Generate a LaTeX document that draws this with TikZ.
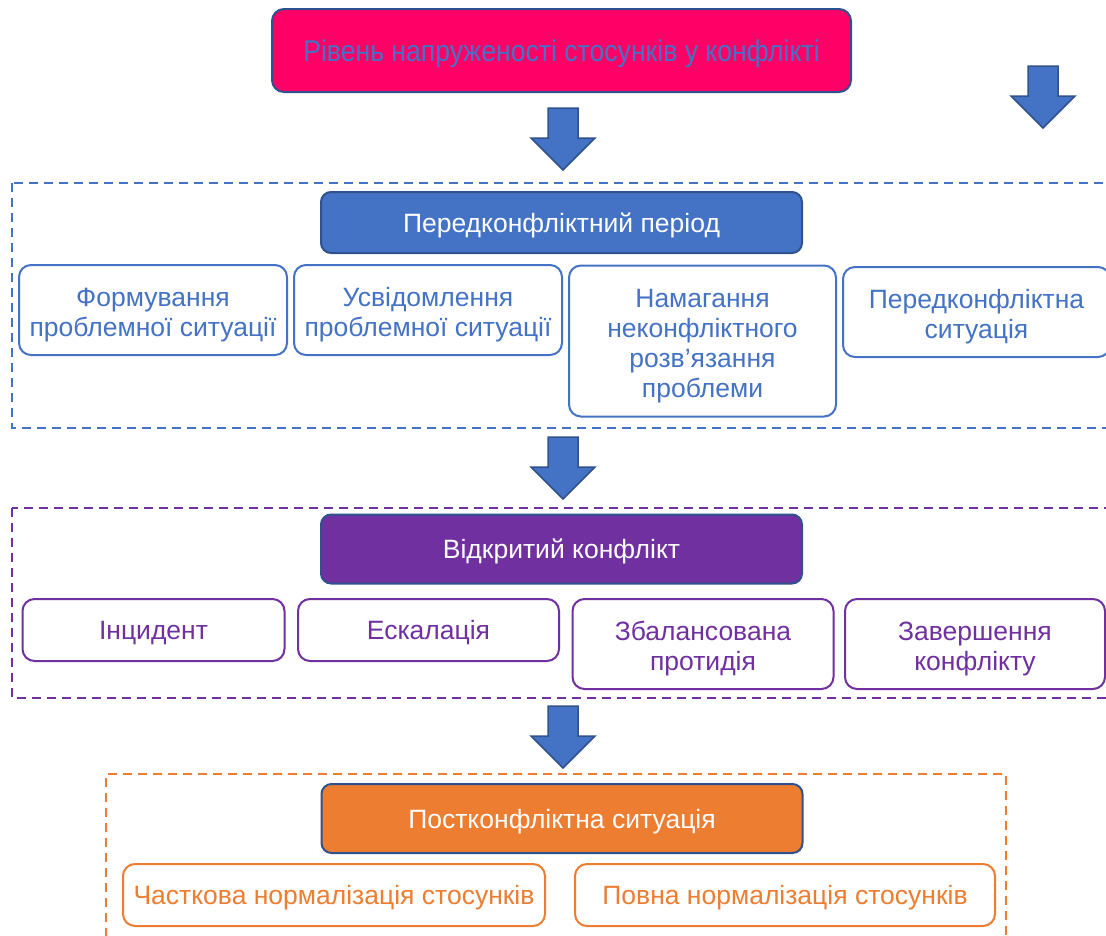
\documentclass[tikz,border=0pt]{standalone}
\usepackage{fontspec}
\setmainfont{Liberation Sans}
\usetikzlibrary{positioning}
\definecolor{azul}{HTML}{4472C4}
\definecolor{azulosc}{HTML}{2F528F}
\definecolor{morado}{HTML}{7030A0}
\definecolor{naranja}{HTML}{ED7D31}
\definecolor{rosa}{HTML}{FF0066}
\newcommand{\lineas}[1]{\raisebox{-5pt}[\height][\depth]{\begin{tabular}{@{}c@{}}#1\end{tabular}}}
\tikzset{
  every node/.style={execute at begin node={\rule{0pt}{0.93em}}, execute at end node={\rule[-0.21em]{0pt}{0pt}}},
  cabeza/.style={draw=azulosc, line width=2pt, rounded corners=10pt, fill=#1, text=white, inner sep=0pt, minimum width=481pt, font=\fontsize{26.5}{30}\selectfont},
  caja/.style={draw=#1, line width=2pt, rounded corners=12pt, fill=white, text=#1, inner sep=0pt, font=\fontsize{26.5}{30}\selectfont},
  marco/.style={draw=#1, line width=2pt, dash pattern=on 9pt off 6pt},
  flecha/.style={fill=azul, draw=azulosc, line width=1.5pt},
  bajar/.pic={\draw[flecha] (-15,0) -- (15,0) -- (15,30) -- (32,30) -- (0,62) -- (-32,30) -- (-15,30) -- cycle;}
}

\begin{document}
\begin{tikzpicture}[x=1pt, y=-1pt]
\useasboundingbox (0,0) rectangle (1106,935);
% marcos punteados
\draw[marco=azul] (12,183) rectangle (1130,428);
\draw[marco=morado] (12,508) rectangle (1130,698);
\draw[marco=naranja] (1006,950) -- (1006,774) -- (106,774) -- (106,950);
% nivel
\node[draw=azulosc, line width=2pt, rounded corners=12pt, fill=rosa, text=azul, minimum width=579pt, minimum height=83pt, inner sep=0pt, font=\fontsize{30}{34}\selectfont] (nivel) at (561.5,50.5) {\scalebox{0.887}[1]{Рівень напруженості стосунків у конфлікті}};
\pic at (563,108) {bajar};
\pic at (1043,66) {bajar};
% передконфліктний період
\node[cabeza=azul, minimum height=61pt] (pre) at (561.5,222.5) {Передконфліктний період};
\node[caja=azul, minimum width=268pt, minimum height=90pt] (pre1) at (153,310) {\lineas{Формування\\проблемної ситуації}};
\node[caja=azul, minimum width=268pt, minimum height=90pt] (pre2) at (428,310) {\lineas{Усвідомлення\\проблемної ситуації}};
\node[caja=azul, minimum width=267pt, minimum height=151pt] (pre3) at (702.5,341) {\lineas{Намагання\\неконфліктного\\розв’язання\\проблеми}};
\node[caja=azul, minimum width=267pt, minimum height=90pt] (pre4) at (976.5,312) {\lineas{Передконфліктна\\ситуація}};
\pic at (563,437) {bajar};
% відкритий конфлікт
\node[cabeza=morado, minimum height=69pt] (conf) at (561.5,549) {Відкритий конфлікт};
\node[caja=morado, minimum width=262pt, minimum height=62pt] (conf1) at (153.5,630) {Інцидент};
\node[caja=morado, minimum width=261pt, minimum height=62pt] (conf2) at (428.5,630) {Ескалація};
\node[caja=morado, minimum width=261pt, minimum height=90pt] (conf3) at (703,644) {\lineas{Збалансована\\протидія}};
\node[caja=morado, minimum width=260pt, minimum height=90pt] (conf4) at (975,644) {\lineas{Завершення\\конфлікту}};
\pic at (563,706) {bajar};
% постконфліктна ситуація
\node[cabeza=naranja, minimum height=69pt] (post) at (562,818.5) {Постконфліктна ситуація};
\node[caja=naranja, minimum width=422pt, minimum height=62pt] (post1) at (334,895) {Часткова нормалізація стосунків};
\node[caja=naranja, minimum width=420pt, minimum height=62pt] (post2) at (785,895) {Повна нормалізація стосунків};
\end{tikzpicture}
\end{document}
